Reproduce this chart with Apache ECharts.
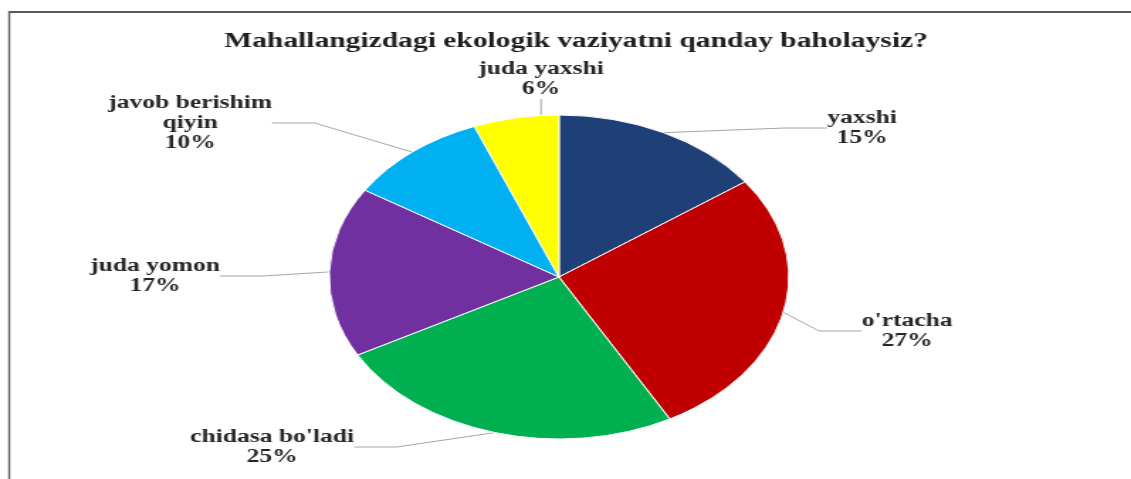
<!DOCTYPE html>
<html>
<head>
<meta charset="utf-8">
<script src="https://cdn.jsdelivr.net/npm/echarts@6/dist/echarts.min.js"></script>
<style>
  html, body { margin: 0; padding: 0; background: #fff; overflow: hidden; }
  #wrap { position: absolute; left: 0; top: 0; width: 797px; height: 479px;
          transform: scaleX(1.4191); transform-origin: 0 0; }
  #chart { width: 797px; height: 479px; }
</style>
</head>
<body>
<div id="wrap"><div id="chart"></div></div>
<script>
// ---- data ----
const titleText = "Mahallangizdagi ekologik vaziyatni qanday baholaysiz?";
const categories = ["yaxshi", "o'rtacha", "chidasa bo'ladi", "juda yomon", "javob berishim qiyin", "juda yaxshi"];
const displayNames = ["yaxshi", "o'rtacha", "chidasa bo'ladi", "juda yomon", "javob berishim\nqiyin", "juda yaxshi"];
const values = [15, 27, 25, 17, 10, 6];
const colors = ["#1F3F77", "#C00000", "#00B050", "#7030A0", "#00B0F0", "#FFFF00"];

// ---- layout (unscaled coordinates) ----
const S = 1131 / 797;
const labelPos = [
  [862 / S, 128], [907 / S, 331], [272 / S, 447],
  [155 / S, 276], [190 / S, 123], [541 / S, 79]
];

const chart = echarts.init(document.getElementById('chart'), null, { renderer: 'canvas' });
const font = "'Liberation Serif', 'Times New Roman', serif";

chart.setOption({
  animation: false,
  title: {
    text: titleText,
    left: 569 / S, top: 26,
    textAlign: 'center',
    textStyle: { fontFamily: font, fontWeight: 'bold', fontSize: 20.8, color: '#1f1f1f' }
  },
  graphic: [
    { type: 'line', shape: { x1: 6.3, y1: 12, x2: 797, y2: 12 }, style: { stroke: '#5a5a5a', lineWidth: 2 } },
    { type: 'line', shape: { x1: 6.5, y1: 11, x2: 6.5, y2: 479 }, style: { stroke: '#5a5a5a', lineWidth: 1.4 } }
  ],
  series: [{
    type: 'pie',
    center: [559 / S, 277],
    radius: 162,
    startAngle: 90,
    clockwise: true,
    data: categories.map((c, i) => ({ name: c, value: values[i], itemStyle: { color: colors[i] } })),
    itemStyle: { borderColor: '#ffffff', borderWidth: 1 },
    label: {
      show: true,
      position: 'outside',
      formatter: p => displayNames[p.dataIndex] + '\n' + p.value + '%',
      fontFamily: font, fontWeight: 'bold', fontSize: 18, lineHeight: 20,
      color: '#262626', align: 'center'
    },
    labelLine: { show: true, length: 20, length2: 30, lineStyle: { color: '#a6a6a6', width: 1 } },
    labelLayout: p => ({
      x: labelPos[p.dataIndex][0], y: labelPos[p.dataIndex][1],
      align: 'center', verticalAlign: 'middle'
    })
  }]
});
</script>
</body>
</html>
